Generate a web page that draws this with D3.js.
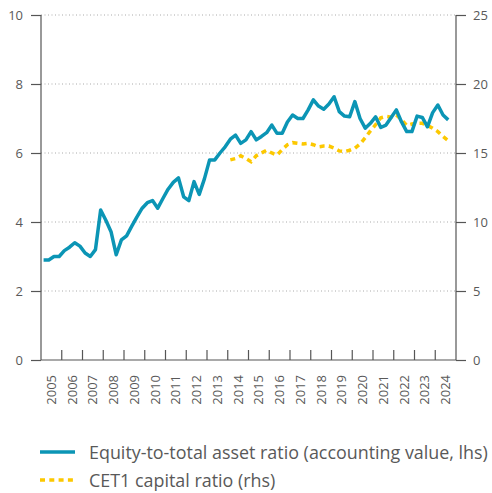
<!DOCTYPE html>
<html>
<head>
<meta charset="utf-8">
<script src="https://cdn.jsdelivr.net/npm/d3@7"></script>
<style>
  body { margin: 0; background: #fff; }
  text { font-family: "Open Sans", sans-serif; fill: #595959; }
</style>
</head>
<body>
<svg id="chart" width="492" height="493"></svg>
<script>
// quarterly data, 2005 Q1 .. 2024 Q3
var equityRatio = [
  2.9, 2.9, 3.0, 3.0, 3.17, 3.27, 3.4, 3.3, 3.1, 3.0, 3.2, 4.35,
  4.05, 3.72, 3.05, 3.48, 3.6, 3.88, 4.15, 4.4, 4.56, 4.62, 4.4, 4.68,
  4.95, 5.15, 5.28, 4.73, 4.62, 5.17, 4.8, 5.25, 5.8, 5.8, 6.0, 6.18,
  6.4, 6.52, 6.28, 6.38, 6.62, 6.38, 6.48, 6.59, 6.81, 6.57, 6.57, 6.9,
  7.1, 7.0, 7.0, 7.25, 7.54, 7.36, 7.27, 7.42, 7.63, 7.2, 7.07, 7.05,
  7.49, 7.0, 6.72, 6.86, 7.05, 6.74, 6.81, 7.03, 7.25, 6.9, 6.62, 6.62,
  7.07, 7.03, 6.76, 7.17, 7.39, 7.1, 6.96
];
var equityStart = 2005;

// quarterly data, 2014 Q1 .. 2024 Q3
var cet1Ratio = [
  14.5, 14.6, 14.8, 14.6, 14.37, 14.8, 15.0, 15.2, 15.0, 14.85, 15.25, 15.6,
  15.75, 15.7, 15.65, 15.7, 15.6, 15.45, 15.5, 15.5, 15.35, 15.15, 15.1, 15.2,
  15.35, 15.65, 16.1, 16.6, 17.05, 17.55, 17.65, 17.6, 17.75, 17.4, 17.0, 17.1,
  17.15, 17.15, 17.0, 16.8, 16.55, 16.2, 15.9
];
var cet1Start = 2014;

var years = d3.range(2005, 2025);
var leftTicks = [0, 2, 4, 6, 8, 10];
var rightTicks = [0, 5, 10, 15, 20, 25];
var legendLabels = ["Equity-to-total asset ratio (accounting value, lhs)", "CET1 capital ratio (rhs)"];

var blue = "#0b95b5", yellow = "#fcc800", axisCol = "#555";

var svg = d3.select("#chart");
var margin = {top: 15, left: 41, right: 36, bottom: 133};
var width = 492 - margin.left - margin.right;
var height = 493 - margin.top - margin.bottom;
var g = svg.append("g").attr("transform", `translate(${margin.left}, ${margin.top})`);

var x = d3.scaleLinear().domain([2005, 2025]).range([0, width]);
var yL = d3.scaleLinear().domain([0, 10]).range([height, 0]);
var yR = d3.scaleLinear().domain([0, 25]).range([height, 0]);

// dotted gridlines
g.append("g").selectAll("line")
  .data(leftTicks.filter(d => d > 0))
  .enter().append("line")
  .attr("x1", 0).attr("x2", width)
  .attr("y1", d => yL(d)).attr("y2", d => yL(d))
  .attr("stroke", "#aaa").attr("stroke-width", 1)
  .attr("stroke-dasharray", "1,2.5");

// left axis
var left = g.append("g").call(d3.axisLeft(yL).tickValues(leftTicks).tickSize(10).tickPadding(8));
// right axis
var right = g.append("g").attr("transform", `translate(${width}, 0)`)
  .call(d3.axisRight(yR).tickValues(rightTicks).tickSize(10).tickPadding(7));
[left, right].forEach(a => {
  a.select(".domain").remove();
  a.selectAll("line").attr("stroke", axisCol).attr("stroke-width", 1.2);
  a.selectAll("text").attr("font-size", 13).attr("fill", "#595959")
    .attr("font-family", "'Open Sans', sans-serif");
});
g.append("line").attr("x1", 0).attr("x2", 0).attr("y1", 0).attr("y2", height)
  .attr("stroke", axisCol).attr("stroke-width", 1.2);
g.append("line").attr("x1", width).attr("x2", width).attr("y1", 0).attr("y2", height)
  .attr("stroke", axisCol).attr("stroke-width", 1.2);

// bottom axis: ticks at year boundaries pointing up, labels mid-year
var bottom = g.append("g").attr("transform", `translate(0, ${height})`);
bottom.append("line").attr("x1", 0).attr("x2", width)
  .attr("stroke", axisCol).attr("stroke-width", 1.2);
bottom.selectAll(".yt").data(years.slice(1)).enter().append("line")
  .attr("x1", d => x(d)).attr("x2", d => x(d))
  .attr("y1", 0).attr("y2", -10)
  .attr("stroke", axisCol).attr("stroke-width", 1.2);
bottom.selectAll(".yl").data(years).enter().append("text")
  .attr("transform", d => `translate(${x(d + 0.5)}, 15) rotate(-90)`)
  .attr("text-anchor", "end")
  .attr("dy", "0.35em")
  .attr("font-size", 13)
  .text(d => d);

// series
var line1 = d3.line()
  .x((d, i) => x(equityStart + (i + 0.5) / 4))
  .y(d => yL(d));
var line2 = d3.line()
  .x((d, i) => x(cet1Start + (i + 0.5) / 4))
  .y(d => yR(d));

g.append("path").datum(cet1Ratio)
  .attr("fill", "none").attr("stroke", yellow).attr("stroke-width", 3.5)
  .attr("stroke-dasharray", "5,4.3")
  .attr("d", line2);

g.append("path").datum(equityRatio)
  .attr("fill", "none").attr("stroke", blue).attr("stroke-width", 3.5)
  .attr("stroke-linejoin", "round")
  .attr("d", line1);

// legend
var legend = svg.append("g");
var legendY = [452, 480];
legend.selectAll(".ll").data(legendLabels).enter().append("line")
  .attr("x1", 40).attr("x2", 75)
  .attr("y1", (d, i) => legendY[i]).attr("y2", (d, i) => legendY[i])
  .attr("stroke", (d, i) => i === 0 ? blue : yellow)
  .attr("stroke-width", 3.5)
  .attr("stroke-dasharray", (d, i) => i === 0 ? null : "5,4.3");
legend.selectAll(".lt").data(legendLabels).enter().append("text")
  .attr("x", 89).attr("y", (d, i) => legendY[i] + 7)
  .attr("font-size", 17.9)
  .text(d => d);
</script>
</body>
</html>
